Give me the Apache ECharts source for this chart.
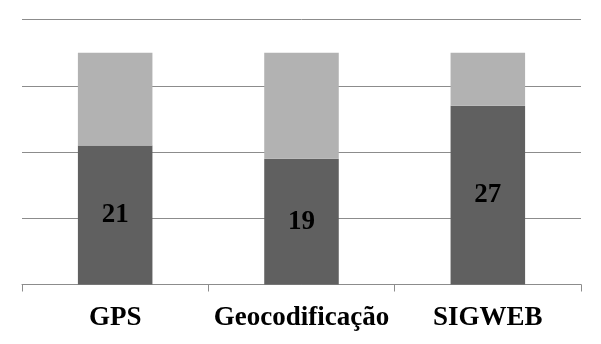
<!DOCTYPE html>
<html>
<head>
<meta charset="utf-8">
<script src="https://cdn.jsdelivr.net/npm/echarts@6/dist/echarts.min.js"></script>
<style>html,body{margin:0;padding:0;background:#fff}#c{width:601px;height:344px}</style>
</head>
<body>
<div id="c"></div>
<script>
var categories = ['GPS', 'Geocodificação', 'SIGWEB'];
var darkValues = [21, 19, 27];
var lightValues = [14, 16, 8];
var yTicks = [0, 10, 20, 30, 40];

var chart = echarts.init(document.getElementById('c'), null, {renderer: 'canvas'});
chart.setOption({
  animation: false,
  backgroundColor: '#ffffff',
  grid: {left: 22, right: 20, top: 19.5, bottom: 59.5},
  xAxis: {
    type: 'category',
    data: categories,
    axisLine: {show: true, lineStyle: {color: '#8c8c8c', width: 1}},
    axisTick: {show: true, length: 7, lineStyle: {color: '#8c8c8c'}},
    axisLabel: {
      interval: 0,
      hideOverlap: false,
      margin: 20,
      color: '#000',
      fontFamily: '"Liberation Serif", "Times New Roman", serif',
      fontWeight: 'bold',
      fontSize: 27
    }
  },
  yAxis: {
    type: 'value',
    min: yTicks[0],
    max: yTicks[yTicks.length - 1],
    interval: 10,
    axisLine: {show: false},
    axisTick: {show: false},
    axisLabel: {show: false},
    splitLine: {show: true, lineStyle: {color: '#8c8c8c', width: 1}}
  },
  series: [
    {
      type: 'bar',
      stack: 'total',
      data: darkValues,
      barCategoryGap: '60%',
      itemStyle: {color: '#606060'},
      label: {
        show: true,
        position: 'inside',
        color: '#000',
        fontFamily: '"Liberation Serif", "Times New Roman", serif',
        fontWeight: 'bold',
        fontSize: 27
      }
    },
    {
      type: 'bar',
      stack: 'total',
      data: lightValues,
      barCategoryGap: '60%',
      itemStyle: {color: '#b2b2b2'}
    }
  ]
});
</script>
</body>
</html>
